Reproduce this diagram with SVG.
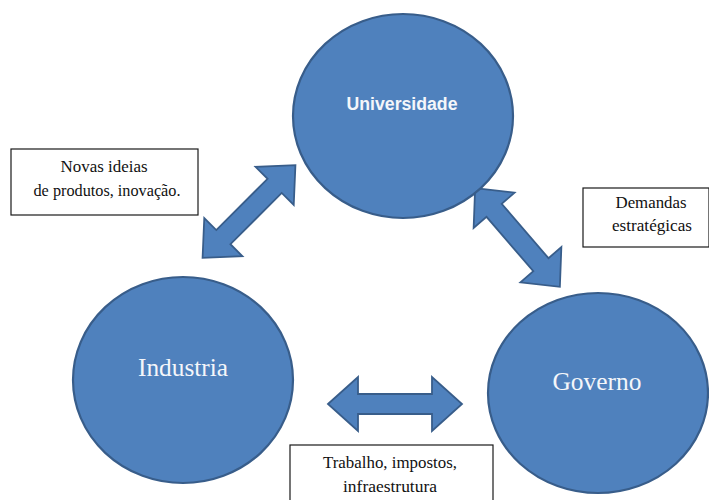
<svg xmlns="http://www.w3.org/2000/svg" width="709" height="500" viewBox="0 0 709 500">
  <style>
    .node { fill: #4f81bd; stroke: #385d8a; stroke-width: 2.2; }
    .arrow { fill: #4f81bd; stroke: #385d8a; stroke-width: 1.8; stroke-linejoin: miter; }
    .label-sans { font-family: "Liberation Sans", Arial, sans-serif; font-weight: bold; fill: #f4f6fa; text-anchor: middle; }
    .label-serif { font-family: "Liberation Serif", "Times New Roman", serif; fill: #f4f6fa; text-anchor: middle; }
    .note { fill: #ffffff; stroke: #1a1a1a; stroke-width: 1.2; }
    .note-text { font-family: "Liberation Serif", "Times New Roman", serif; font-size: 16.8px; fill: #111111; text-anchor: middle; }
  </style>
  <defs>
    <!-- double-headed block arrow, centred on the origin, pointing along x -->
    <path id="dbl-arrow" d="M -67 0 L -37 -27 L -37 -10 L 37 -10 L 37 -27 L 67 0 L 37 27 L 37 10 L -37 10 L -37 27 Z"/>
  </defs>

  <rect width="709" height="500" fill="#ffffff"/>

  <g id="connectors">
    <use href="#dbl-arrow" class="arrow" transform="translate(249,211.5) rotate(-45) scale(0.98,1)"/>
    <use href="#dbl-arrow" class="arrow" transform="translate(517.5,237.5) rotate(49.3) scale(0.97,1)"/>
    <use href="#dbl-arrow" class="arrow" transform="translate(395,404)"/>
  </g>

  <g id="universidade">
    <ellipse class="node" cx="403" cy="116" rx="110" ry="102"/>
    <text class="label-sans" x="402" y="110" font-size="17.5" textLength="111" lengthAdjust="spacingAndGlyphs">Universidade</text>
  </g>

  <g id="industria">
    <ellipse class="node" cx="183" cy="380" rx="110" ry="103"/>
    <text class="label-serif" x="183" y="376" font-size="24.5" textLength="90" lengthAdjust="spacingAndGlyphs">Industria</text>
  </g>

  <g id="governo">
    <ellipse class="node" cx="598" cy="393" rx="110" ry="100"/>
    <text class="label-serif" x="597" y="390" font-size="24.5" textLength="89" lengthAdjust="spacingAndGlyphs">Governo</text>
  </g>

  <g id="note-ideias">
    <rect class="note" x="11" y="149" width="187" height="66"/>
    <text class="note-text" x="104" y="172" textLength="87" lengthAdjust="spacingAndGlyphs">Novas ideias</text>
    <text class="note-text" x="107" y="196" textLength="147" lengthAdjust="spacingAndGlyphs">de produtos, inovação.</text>
  </g>

  <g id="note-demandas">
    <rect class="note" x="583" y="188" width="126" height="59"/>
    <text class="note-text" x="651" y="208" textLength="71" lengthAdjust="spacingAndGlyphs">Demandas</text>
    <text class="note-text" x="652" y="231" textLength="80" lengthAdjust="spacingAndGlyphs">estratégicas</text>
  </g>

  <g id="note-trabalho">
    <rect class="note" x="290" y="445" width="203" height="60"/>
    <text class="note-text" x="390" y="468" textLength="134" lengthAdjust="spacingAndGlyphs">Trabalho, impostos,</text>
    <text class="note-text" x="390" y="492" textLength="94" lengthAdjust="spacingAndGlyphs">infraestrutura</text>
  </g>
</svg>
